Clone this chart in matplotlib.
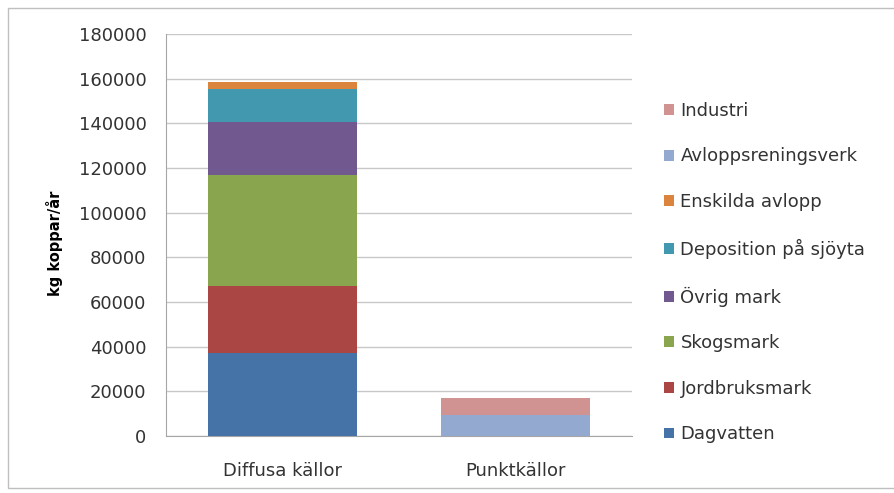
import matplotlib.pyplot as plt
from matplotlib.patches import Rectangle

plt.rcParams['font.family'] = ['DejaVu Sans']

categories = ['Diffusa källor', 'Punktkällor']
series = ['Dagvatten', 'Jordbruksmark', 'Skogsmark', 'Övrig mark',
          'Deposition på sjöyta', 'Enskilda avlopp', 'Avloppsreningsverk', 'Industri']
# kg koppar/år per series, [diffusa, punkt]
dagvatten = [37000, 0]
jordbruksmark = [30000, 0]
skogsmark = [50000, 0]
ovrig_mark = [23600, 0]
deposition = [14800, 0]
enskilda_avlopp = [3100, 0]
avloppsreningsverk = [0, 9400]
industri = [0, 7600]
values = [dagvatten, jordbruksmark, skogsmark, ovrig_mark,
          deposition, enskilda_avlopp, avloppsreningsverk, industri]
colors = ['#4572A7', '#AA4643', '#89A54E', '#71588F',
          '#4198AF', '#DB843D', '#93A9CF', '#D19392']

fig = plt.figure(figsize=(8.94, 4.93), dpi=100)
fig.patches.append(Rectangle((8 / 894, 5 / 493), 1.2, 480 / 493, transform=fig.transFigure,
                             fill=False, edgecolor='#BFBFBF', lw=1))
ax = fig.add_axes([166 / 894, 57 / 493, 466 / 894, 402 / 493])

x = range(len(categories))
bottom = [0, 0]
handles = []
for name, vals, c in zip(series, values, colors):
    b = ax.bar(x, vals, width=0.64, bottom=bottom, color=c, label=name, zorder=3)
    handles.append(b)
    bottom = [bt + v for bt, v in zip(bottom, vals)]

ax.set_xlim(-0.5, 1.5)
ax.set_ylim(0, 180000)
ax.set_yticks(range(0, 180001, 20000))
ax.set_xticks(list(x))
ax.set_xticklabels(categories)
ax.grid(axis='y', color='#C8C8C8', lw=1, zorder=0)
for s in ['top', 'right']:
    ax.spines[s].set_visible(False)
for s in ['left', 'bottom']:
    ax.spines[s].set_color('#A6A6A6')
ax.tick_params(axis='both', length=0, labelsize=13, colors='#333333')
ax.tick_params(axis='y', pad=14)
ax.tick_params(axis='x', pad=19)
ax.set_ylabel('kg koppar/år', fontsize=10.5, fontweight='bold')
ax.yaxis.set_label_coords(-0.22, 0.48)

fig.legend(handles[::-1], series[::-1], loc='center left', bbox_to_anchor=(648 / 894, 0.447),
           frameon=False, fontsize=13, handlelength=0.55, handleheight=0.55,
           handletextpad=0.35, labelspacing=1.53, labelcolor='#333333')

plt.savefig('out.png', dpi=100)
